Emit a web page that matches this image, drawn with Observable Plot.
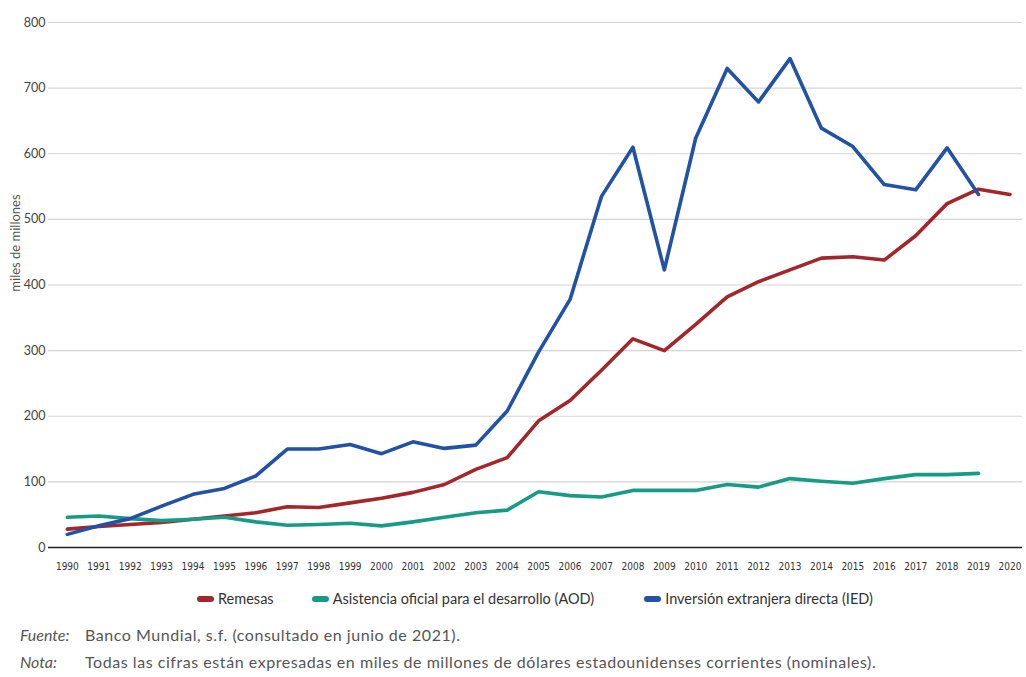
<!DOCTYPE html>
<html><head><meta charset="utf-8">
<script src="https://cdn.jsdelivr.net/npm/d3@7"></script>
<script src="https://cdn.jsdelivr.net/npm/@observablehq/plot@0.6"></script>
<style>
body{margin:0;background:#fff;font-family:Lato,"Open Sans",sans-serif;}
#wrap{position:relative;width:1026px;height:677px;overflow:hidden;}
#chart{position:absolute;left:0;top:0;}
#legend{position:absolute;top:590px;left:197px;display:flex;align-items:center;font-size:14.5px;color:#333;white-space:nowrap;}
.item{display:flex;align-items:center;margin-right:38px;}
.item:nth-child(2){margin-right:50px;}
.sw{width:17px;height:6px;border-radius:3px;margin-right:4px;}
#foot{position:absolute;left:20px;top:621px;font-size:16px;color:#555;line-height:27px;}
.row{display:flex;white-space:nowrap;}
.lab{width:65px;font-style:italic;letter-spacing:0;}
.txt{letter-spacing:0.55px;}
</style></head><body>
<div id="wrap"><div id="chart"></div><div id="legend"></div><div id="foot"></div></div>
<script>
const years = [1990,1991,1992,1993,1994,1995,1996,1997,1998,1999,2000,2001,2002,2003,2004,2005,2006,2007,2008,2009,2010,2011,2012,2013,2014,2015,2016,2017,2018,2019,2020];
const remesas = [28,32,35,38,43,48,53,62,61,68,75,84,96,119,137,193,224,270,318,300,340,382,405,423,441,443,438,475,524,546,538];
const aod = [46,48,44,41,43,46,39,34,35,37,33,39,46,53,57,85,79,77,87,87,87,96,92,105,101,98,105,111,111,113];
const ied = [20,33,44,63,81,90,109,150,150,157,143,161,151,156,208,298,378,535,610,423,624,730,679,745,639,611,553,545,609,538];
const seriesNames = ["Remesas","Asistencia oficial para el desarrollo (AOD)","Inversión extranjera directa (IED)"];
const seriesColors = ["#a3262b","#189b86","#2152a5"];
const yTicks = [0,100,200,300,400,500,600,700,800];
const yLabel = "miles de millones";
const fuente = "Banco Mundial, s.f. (consultado en junio de 2021).";
const nota = "Todas las cifras están expresadas en miles de millones de dólares estadounidenses corrientes (nominales).";

const rows = [];
[remesas, aod, ied].forEach((vals, s) => vals.forEach((v, i) => rows.push({year: years[i], value: v, series: seriesNames[s]})));

const chart = Plot.plot({
  width: 1026,
  height: 580,
  marginTop: 22,
  marginBottom: 33,
  marginLeft: 48,
  marginRight: 4,
  style: {fontFamily: "Lato, 'Open Sans', sans-serif", background: "#fff"},
  x: {domain: [1989.4, 2020.4]},
  y: {domain: [0, 800]},
  color: {domain: seriesNames, range: seriesColors},
  marks: [
    Plot.gridY(yTicks.filter(d => d > 0), {stroke: "#d4d4d4", strokeOpacity: 1, strokeWidth: 1.2}),
    Plot.axisY(yTicks, {tickSize: 0, tickPadding: 3, fontSize: 12.5, fill: "#444", label: null}),
    Plot.axisX(years, {tickSize: 0, tickPadding: 15, fontSize: 10, fill: "#333", tickFormat: d => String(d), label: null, fontFamily: "'Liberation Sans Narrow', 'DejaVu Sans Condensed', sans-serif"}),
    Plot.text([yLabel], {frameAnchor: "left", textAnchor: "middle", rotate: -90, dx: -33, dy: -42, fontSize: 13, fill: "#555"}),
    Plot.line(rows, {x: "year", y: "value", z: "series", stroke: "series", strokeWidth: 3.6, strokeLinejoin: "round", strokeLinecap: "round"}),
    Plot.ruleY([0], {stroke: "#222", strokeWidth: 1.5})
  ]
});
document.getElementById("chart").appendChild(chart);

const legend = document.getElementById("legend");
seriesNames.forEach((n, i) => {
  const it = document.createElement("div"); it.className = "item";
  const sw = document.createElement("div"); sw.className = "sw"; sw.style.background = seriesColors[i];
  const tx = document.createElement("span"); tx.textContent = n;
  it.appendChild(sw); it.appendChild(tx); legend.appendChild(it);
});
const foot = document.getElementById("foot");
[["Fuente:", fuente], ["Nota:", nota]].forEach(([a, b]) => {
  const r = document.createElement("div"); r.className = "row";
  const l = document.createElement("span"); l.className = "lab"; l.textContent = a;
  const t = document.createElement("span"); t.className = "txt"; t.textContent = b;
  r.appendChild(l); r.appendChild(t); foot.appendChild(r);
});
</script>
</body></html>
